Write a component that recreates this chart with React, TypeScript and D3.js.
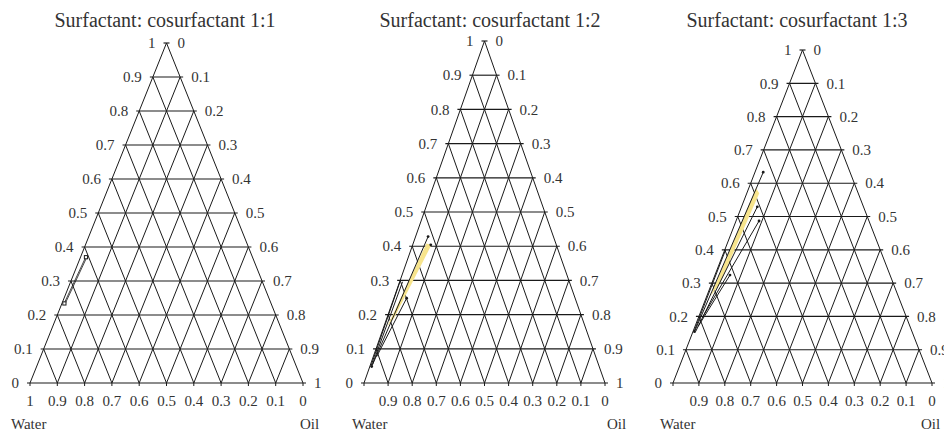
import React from "react";
import * as d3 from "d3";

// ---------- data ----------
const titles = [
  "Surfactant: cosurfactant 1:1",
  "Surfactant: cosurfactant 1:2",
  "Surfactant: cosurfactant 1:3",
];
const levels = [0, 0.1, 0.2, 0.3, 0.4, 0.5, 0.6, 0.7, 0.8, 0.9, 1];
const leftLabels = ["0", "0.1", "0.2", "0.3", "0.4", "0.5", "0.6", "0.7", "0.8", "0.9", "1"];
const rightLabels = ["1", "0.9", "0.8", "0.7", "0.6", "0.5", "0.4", "0.3", "0.2", "0.1", "0"];
// bottom labels indexed by oil fraction 0..1 (water = 1 - oil)
const bottomLabels1 = ["1", "0.9", "0.8", "0.7", "0.6", "0.5", "0.4", "0.3", "0.2", "0.1", "0"];
const bottomLabels23 = ["", "0.9", "0.8", "0.7", "0.6", "0.5", "0.4", "0.3", "0.2", "0.1", "0"];
const waterLabel = "Water";
const oilLabel = "Oil";

// region points as [surfactant mix fraction, oil fraction]
const band1: [number, number][] = [[0.234, 0.008], [0.37, 0.019], [0.368, 0.023], [0.232, 0.012]];
const squares1: [number, number][] = [[0.234, 0.009], [0.37, 0.02]];

const band2: [number, number][] = [[0.165, 0.014], [0.408, 0.055], [0.404, 0.078], [0.19, 0.03]];
const lines2: [number, number][][] = [
  [[0.048, 0.008], [0.428, 0.052]],
  [[0.296, 0.001], [0.048, 0.004]],
  [[0.296, 0.012], [0.055, 0.008]],
  [[0.077, 0.014], [0.248, 0.053]],
];
const dots2: [number, number][] = [[0.428, 0.052], [0.404, 0.075], [0.248, 0.053], [0.048, 0.008]];

const band3: [number, number][] = [[0.26, 0.014], [0.585, 0.028], [0.57, 0.048], [0.3, 0.032]];
const lines3: [number, number][][] = [
  [[0.154, 0.006], [0.633, 0.032]],
  [[0.154, 0.01], [0.529, 0.061]],
  [[0.2, 0.016], [0.4865, 0.089]],
  [[0.17, 0.012], [0.324, 0.058]],
  [[0.154, 0.004], [0.4, 0.003]],
];
const dots3: [number, number][] = [[0.633, 0.032], [0.529, 0.061], [0.4865, 0.089], [0.324, 0.058], [0.154, 0.006]];

// ---------- layout ----------
const FONT = "'Liberation Serif', 'Times New Roman', serif";
const TXT = "#333";
const LINE = "#1a1a1a";
const YELLOW = "#f7e48c";

type Geom = { left: number; right: number; base: number; apex: number; titleX: number; waterX: number; oilX: number };
const geoms: Geom[] = [
  { left: 30, right: 303, base: 383, apex: 43, titleX: 165, waterX: 11, oilX: 300 },
  { left: 364, right: 605, base: 383, apex: 41, titleX: 490, waterX: 352, oilX: 607 },
  { left: 673, right: 932, base: 383, apex: 50, titleX: 797, waterX: 660, oilX: 921 },
];

type PanelProps = {
  g: Geom;
  title: string;
  bottomLabels: string[];
  band: [number, number][];
  lines: [number, number][][];
  dots: [number, number][];
  squares: [number, number][];
};

function Panel({ g, title, bottomLabels, band, lines, dots, squares }: PanelProps) {
  const y = d3.scaleLinear().domain([0, 1]).range([g.base, g.apex]);
  const x = d3.scaleLinear().domain([0, 1]).range([g.left, g.right]);
  const P = (s: number, o: number): [number, number] => [x(o + s / 2), y(s)];
  const ext = 3;
  const gap = 11;
  const fs = 15;
  const line = d3.line<[number, number]>().x((d) => P(d[0], d[1])[0]).y((d) => P(d[0], d[1])[1]);

  const grid: JSX.Element[] = [];
  levels.forEach((v, i) => {
    const a = P(v, 0);
    const b = P(v, 1 - v);
    grid.push(<line key={"h" + i} x1={a[0] - ext} x2={b[0] + ext} y1={a[1]} y2={a[1]} stroke={LINE} strokeWidth={1.15} />);
    if (v < 1) {
      const c = P(0, v);
      const d = P(1 - v, v);
      grid.push(<line key={"o" + i} x1={c[0]} y1={c[1]} x2={d[0]} y2={d[1]} stroke={LINE} strokeWidth={1} />);
      const e = P(0, 1 - v);
      const f = P(1 - v, 0);
      grid.push(<line key={"w" + i} x1={e[0]} y1={e[1]} x2={f[0]} y2={f[1]} stroke={LINE} strokeWidth={1} />);
    }
    const t = P(0, v);
    grid.push(<line key={"t" + i} x1={t[0]} x2={t[0]} y1={t[1]} y2={t[1] + 3} stroke={LINE} strokeWidth={1} />);
  });

  const isOutline = squares.length > 0;

  return (
    <g>
      <text x={g.titleX} y={27} textAnchor="middle" fontFamily={FONT} fontSize={20} fill={TXT}>
        {title}
      </text>
      {grid}
      {levels.map((v, i) => {
        const l = P(v, 0);
        const r = P(v, 1 - v);
        return (
          <g key={"lab" + i}>
            <text x={l[0] - gap} y={l[1]} dy="0.35em" textAnchor="end" fontFamily={FONT} fontSize={fs} fill={TXT}>
              {leftLabels[i]}
            </text>
            <text x={r[0] + gap} y={r[1]} dy="0.35em" textAnchor="start" fontFamily={FONT} fontSize={fs} fill={TXT}>
              {rightLabels[i]}
            </text>
          </g>
        );
      })}
      {levels.map((v, i) => {
        const p = P(0, v);
        return (
          <text key={"b" + i} x={p[0]} y={g.base + 23} textAnchor="middle" fontFamily={FONT} fontSize={fs} fill={TXT}>
            {bottomLabels[i]}
          </text>
        );
      })}
      <text x={g.waterX} y={429} fontFamily={FONT} fontSize={fs} fill={TXT}>
        {waterLabel}
      </text>
      <text x={g.oilX} y={429} fontFamily={FONT} fontSize={fs} fill={TXT}>
        {oilLabel}
      </text>
      {band.length > 0 && (
        <path
          d={line([...band, band[0]]) || ""}
          fill={isOutline ? "none" : YELLOW}
          stroke={isOutline ? LINE : "none"}
          strokeWidth={0.8}
        />
      )}
      {lines.map((ln, i) => (
        <path key={"ln" + i} d={line(ln) || ""} fill="none" stroke={LINE} strokeWidth={1} />
      ))}
      {dots.map((d, i) => {
        const p = P(d[0], d[1]);
        return <circle key={"d" + i} cx={p[0]} cy={p[1]} r={1.4} fill={LINE} />;
      })}
      {squares.map((d, i) => {
        const p = P(d[0], d[1]);
        return (
          <rect key={"s" + i} x={p[0] - 1.6} y={p[1] - 1.6} width={3.2} height={3.2} fill="#fff" stroke={LINE} strokeWidth={1} />
        );
      })}
    </g>
  );
}

export default function App() {
  return (
    <svg
      width={944}
      height={432}
      style={{ position: "absolute", left: 0, top: 0, display: "block", background: "#fff" }}
    >
      <rect x={0} y={0} width={944} height={432} fill="#fff" />
      <Panel g={geoms[0]} title={titles[0]} bottomLabels={bottomLabels1} band={band1} lines={[]} dots={[]} squares={squares1} />
      <Panel g={geoms[1]} title={titles[1]} bottomLabels={bottomLabels23} band={band2} lines={lines2} dots={dots2} squares={[]} />
      <Panel g={geoms[2]} title={titles[2]} bottomLabels={bottomLabels23} band={band3} lines={lines3} dots={dots3} squares={[]} />
    </svg>
  );
}
